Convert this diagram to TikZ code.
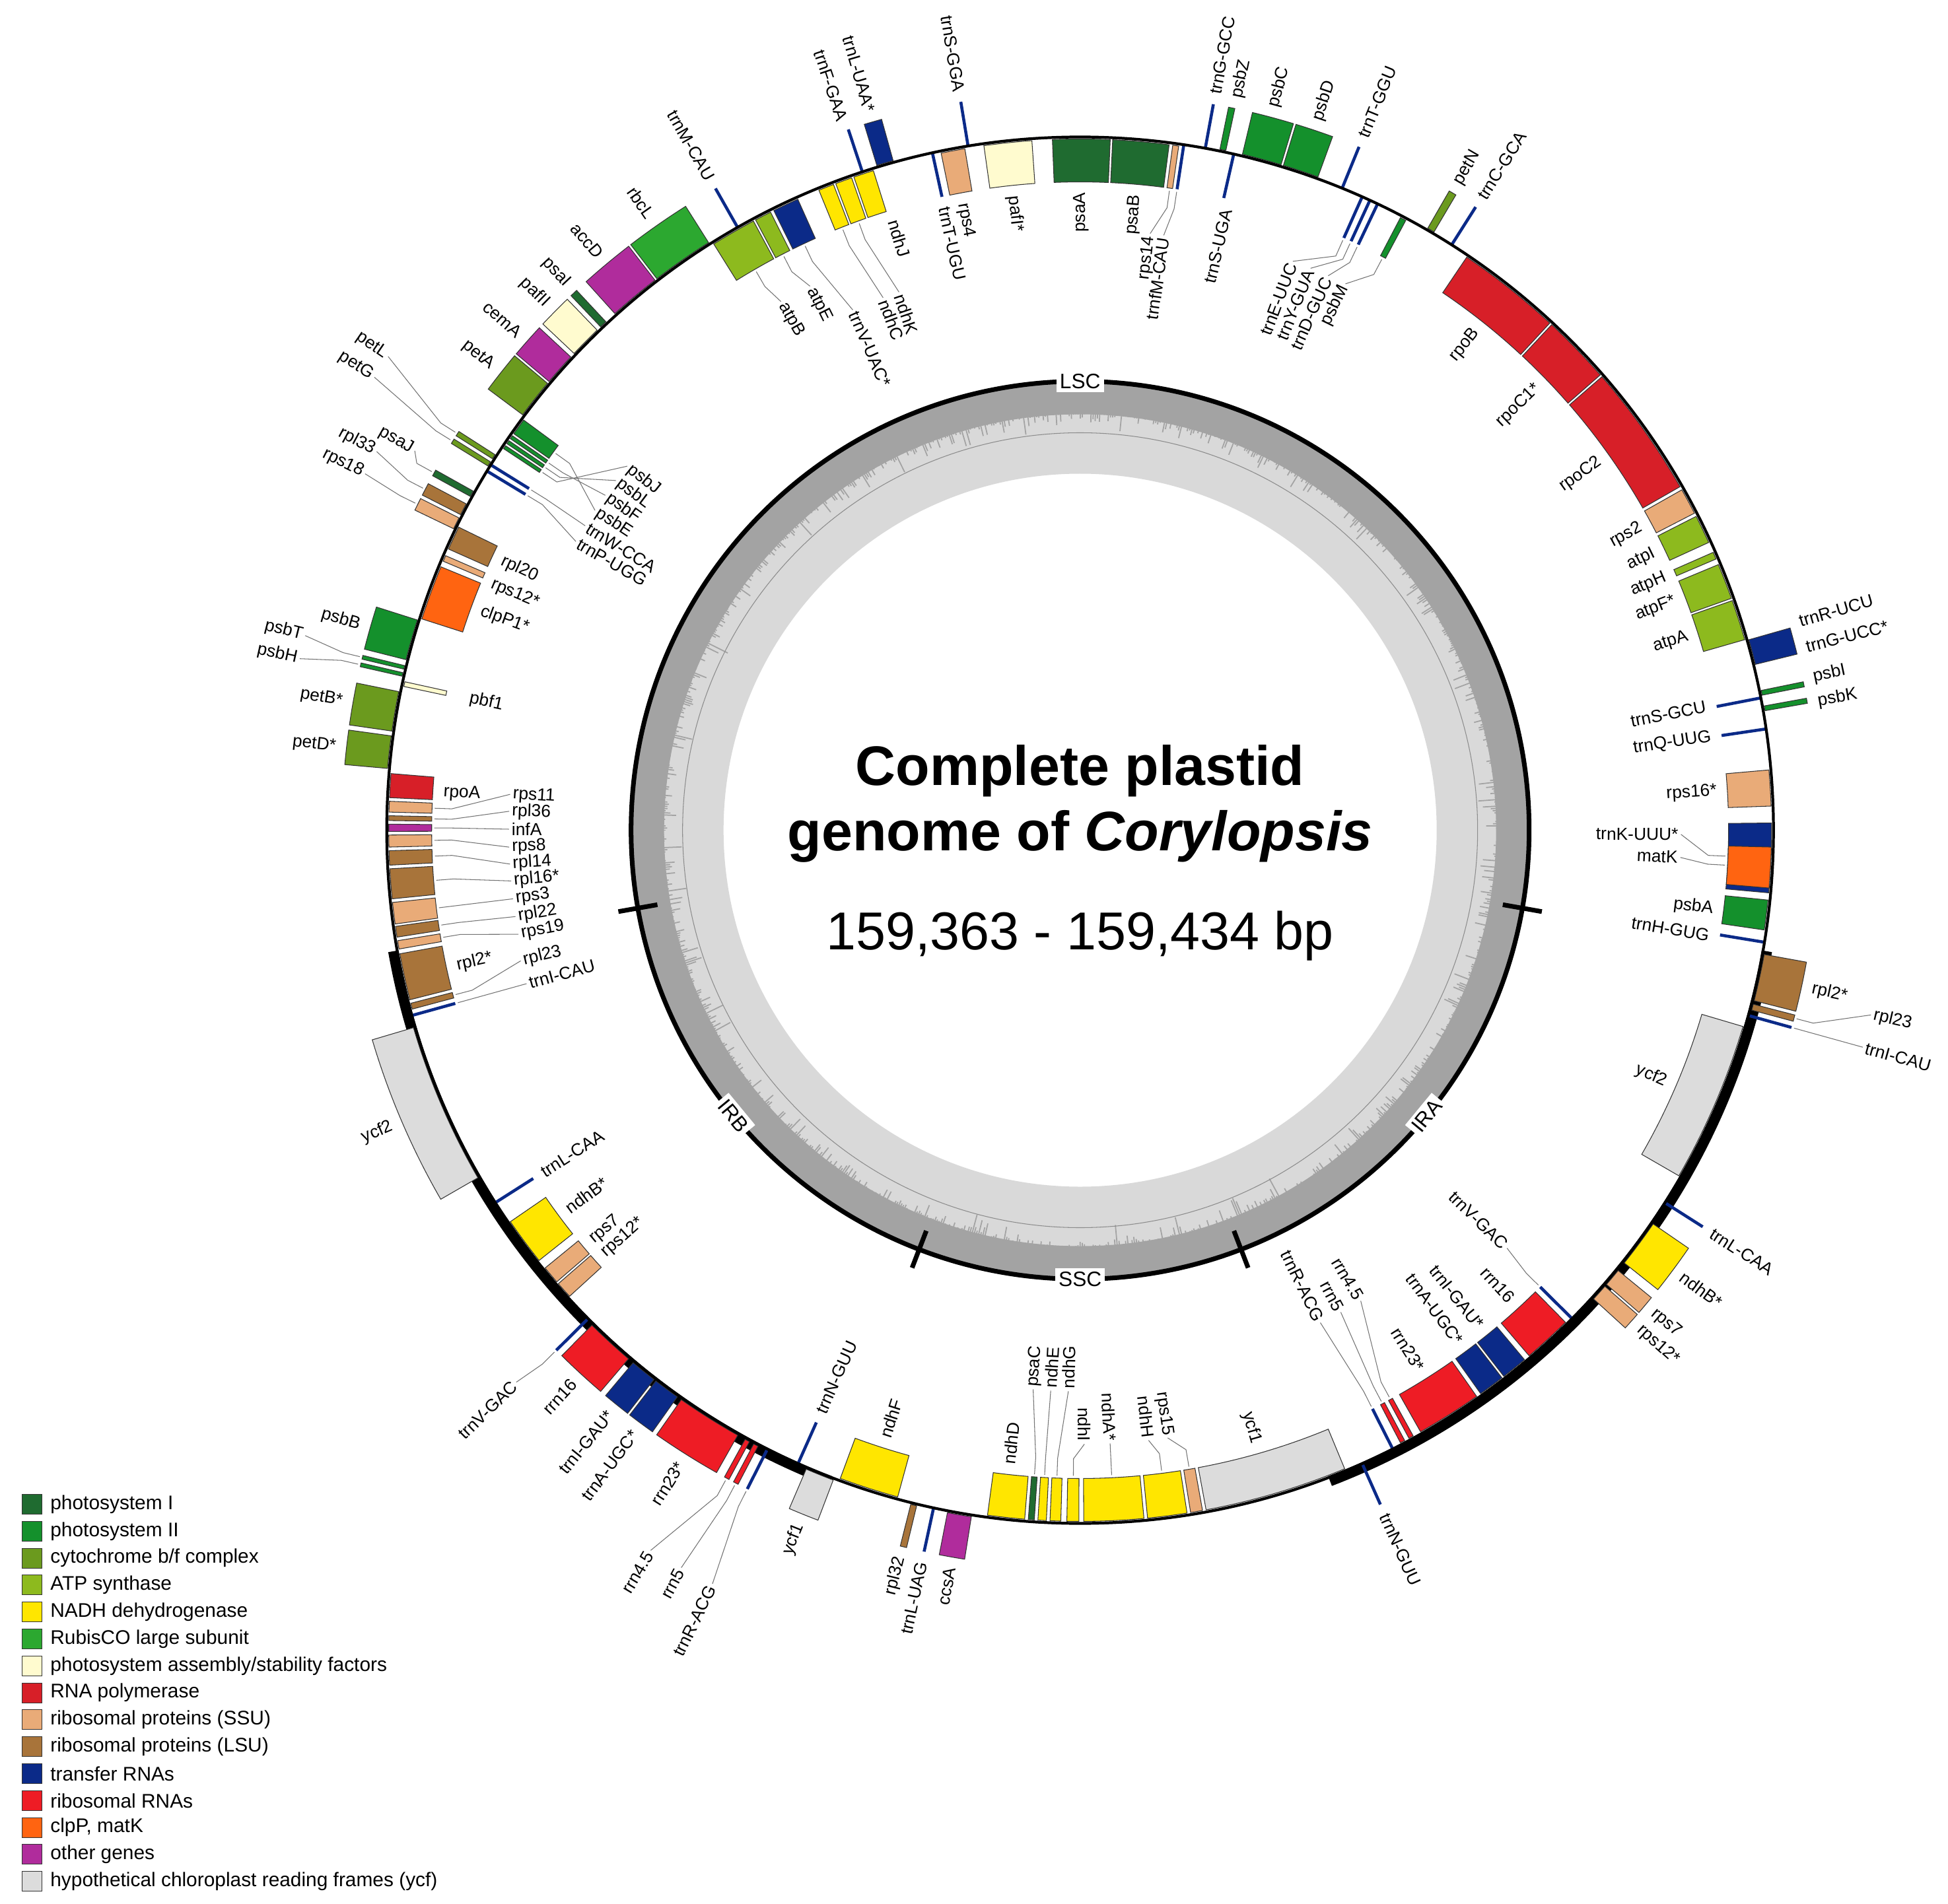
\documentclass[tikz,border=0pt]{standalone}
\usepackage{fontspec}
\setmainfont{Liberation Sans}
\definecolor{psI}{HTML}{1F6B30}
\definecolor{psII}{HTML}{14902C}
\definecolor{cytb}{HTML}{6B9A1E}
\definecolor{atp}{HTML}{8DBA1E}
\definecolor{nadh}{HTML}{FFE600}
\definecolor{rubisco}{HTML}{2CA830}
\definecolor{assem}{HTML}{FFFBCF}
\definecolor{rnap}{HTML}{D71F28}
\definecolor{ssu}{HTML}{E9AB78}
\definecolor{lsu}{HTML}{A8743A}
\definecolor{trna}{HTML}{0B2A88}
\definecolor{rrna}{HTML}{EE1C25}
\definecolor{clp}{HTML}{FF6411}
\definecolor{other}{HTML}{B02C9C}
\definecolor{ycf}{HTML}{DCDCDC}
\def\R{10.5}
\def\H{0.68}
\tikzset{
 gbox/.style={draw=black!80,line width=0.3pt},
 lab/.style={font=\fontsize{7.5}{8}\selectfont,inner sep=1pt},
 leader/.style={draw=black!55,line width=0.3pt},
 trnaline/.style={draw=trna,line width=1.3pt},
 leg/.style={font=\fontsize{8.5}{10}\selectfont,anchor=west,inner sep=0pt}
}
\newcommand\Lab[5]{%
 \pgfmathsetmacro\rl{\R+(#2)*(#5)}%
 \pgfmathsetmacro\cs{cos(#4)}%
 \pgfmathsetmacro\rot{\cs>=0 ? #4 : #4+180}%
 \pgfmathsetmacro\aw{\cs*(#2)>=0 ? 1 : 0}%
 \ifdim #5pt>1.01pt
   \pgfmathsetmacro\re{\R+(#2)*(\H+0.04)}%
   \pgfmathsetmacro\rk{\R+(#2)*(\H+0.3)}%
   \draw[leader] (#1:\re) -- (#1:\rk) -- (#4:\rl);
 \fi
 \ifdim\aw pt>0.5pt \node[lab,anchor=west,rotate=\rot] at (#4:\rl) {#3};%
 \else \node[lab,anchor=east,rotate=\rot] at (#4:\rl) {#3};\fi
}
\newcommand\G[7]{%
 \pgfmathsetmacro\ra{\R+(#4)*0.03}%
 \pgfmathsetmacro\rb{\R+(#4)*\H}%
 \filldraw[gbox,fill=#3] (#1:\ra) arc[start angle=#1,end angle=#2,radius=\ra] -- (#2:\rb) arc[start angle=#2,end angle=#1,radius=\rb] -- cycle;
 \pgfmathsetmacro\mm{(#1+#2)/2}%
 \ifx&#5&\else\Lab{\mm}{#4}{#5}{#6}{#7}\fi
}
\newcommand\T[5]{%
 \pgfmathsetmacro\rb{\R+(#2)*\H}%
 \draw[trnaline] (#1:\R) -- (#1:\rb);
 \Lab{#1}{#2}{#3}{#4}{#5}%
}
\newcommand\IRG[7]{%
 \pgfmathsetmacro\ma{(#1+#2)/2+#6}%
 \G{#1}{#2}{#3}{#4}{#5}{\ma}{#7}%
 \pgfmathsetmacro\ba{-180-(#1)}\pgfmathsetmacro\bb{-180-(#2)}%
 \pgfmathsetmacro\bl{-180-\ma}\pgfmathsetmacro\sideB{-1*(#4)}%
 \G{\ba}{\bb}{#3}{\sideB}{#5}{\bl}{#7}%
}
\newcommand\IRT[5]{%
 \pgfmathsetmacro\ma{#1+#4}%
 \T{#1}{#2}{#3}{\ma}{#5}%
 \pgfmathsetmacro\ba{-180-(#1)}\pgfmathsetmacro\bl{-180-\ma}\pgfmathsetmacro\sideB{-1*(#2)}%
 \T{\ba}{\sideB}{#3}{\bl}{#5}%
}
\begin{document}
\begin{tikzpicture}
\useasboundingbox (-16.357,-16.255) rectangle (13.143,12.575);
\fill[white] (-16.357,-16.255) rectangle (13.143,12.575);
% GC ring
\fill[black!15,even odd rule] (0,0) circle (6.78) (0,0) circle (5.4);
\fill[black!36,even odd rule] (0,0) circle (6.78) (0,0) circle (6.3);
\pgfmathsetseed{7}
\foreach \a in {0,0.3,...,359.8}{%
  \pgfmathsetmacro\rr{6.32-0.45*rnd*rnd*rnd}%
  \draw[black!36,line width=0.5pt] (\a:\rr) -- (\a:6.35);}
\draw[black!45,line width=0.3pt] (0,0) circle (6.02);
\draw[line width=2pt] (0,0) circle (6.8);
\foreach \t in {-10,-69,-111,-170}{\draw[line width=2pt] (\t:6.5) -- (\t:7.1);}
\node[fill=white,inner sep=1.5pt,font=\fontsize{9}{10}\selectfont] (lsc) at (90:6.8) {LSC};
\node[fill=white,inner sep=1.5pt,font=\fontsize{9}{10}\selectfont] (ssc) at (-90:6.8) {SSC};
\node[fill=white,inner sep=1.5pt,font=\fontsize{9}{10}\selectfont,rotate=50.5] (ira) at (-39.5:6.8) {IRA};
\node[fill=white,inner sep=1.5pt,font=\fontsize{9}{10}\selectfont,rotate=-50.5] (irb) at (-140.5:6.8) {IRB};
% title
\node[font=\fontsize{24}{28}\selectfont\bfseries,align=center] (title) at (0,0.4) {Complete plastid\\genome of \textit{Corylopsis}};
\node[font=\fontsize{23}{26}\selectfont] (bp) at (0,-1.6) {159,363 - 159,434 bp};
% IR thick arcs
\draw[line width=4.5pt] (-10:10.56) arc[start angle=-10,end angle=-69,radius=10.56];
\draw[line width=4.5pt] (-111:10.56) arc[start angle=-111,end angle=-170,radius=10.56];
% ---- LSC genes
\T{99.3}{1}{trnS-GGA}{99.3}{0.8}
\G{101.6}{99.6}{ssu}{-1}{rps4}{100.6}{0.8}
\T{102.3}{-1}{trnT-UGU}{102.3}{0.8}
\G{98}{94}{assem}{-1}{pafI*}{96}{0.8}
\G{92.3}{87.5}{psI}{-1}{psaA}{89.9}{0.8}
\G{87.3}{82.6}{psI}{-1}{psaB}{85}{0.8}
\G{82.3}{81.8}{ssu}{-1}{rps14}{83.3}{1.4}
\T{81.4}{-1}{trnfM-CAU}{82}{1.4}
\T{79.6}{1}{trnG-GCC}{79.6}{0.8}
\G{78.4}{77.9}{psII}{1}{psbZ}{77.9}{0.8}
\T{77.2}{-1}{trnS-UGA}{76.7}{0.8}
\G{76.5}{73.2}{psII}{1}{psbC}{75}{0.8}
\G{73}{70}{psII}{1}{psbD}{71.5}{0.8}
\T{67.8}{1}{trnT-GGU}{67.8}{0.8}
\T{66}{-1}{trnE-UUC}{69.5}{1.3}
\T{65.3}{-1}{trnY-GUA}{67.7}{1.3}
\T{64.6}{-1}{trnD-GUC}{65.9}{1.3}
\G{62.4}{61.9}{psII}{-1}{psbM}{64.1}{1.3}
\G{60}{59.4}{cytb}{1}{petN}{59.7}{0.8}
\T{57.6}{1}{trnC-GCA}{57.6}{0.8}
\G{56}{47.2}{rnap}{-1}{rpoB}{51.6}{0.8}
\G{47}{41.2}{rnap}{-1}{rpoC1*}{44.1}{0.8}
\G{41}{29.8}{rnap}{-1}{rpoC2}{35.4}{0.8}
\G{29.5}{27.3}{ssu}{-1}{rps2}{28.4}{0.8}
\G{27}{24.6}{atp}{-1}{atpI}{25.8}{0.8}
\G{23.7}{23.1}{atp}{-1}{atpH}{23.4}{0.8}
\G{22.6}{19.6}{atp}{-1}{atpF*}{21.1}{0.8}
\G{19.4}{16}{atp}{-1}{atpA}{17.7}{0.8}
\G{15.9}{13.8}{trna}{1}{trnR-UCU}{16.2}{0.8}
\Lab{14.8}{1}{trnG-UCC*}{14.2}{0.8}
\T{11}{-1}{trnS-GCU}{11.2}{0.8}
\G{11.6}{11.2}{psII}{1}{psbI}{11.8}{0.8}
\G{10.3}{9.9}{psII}{1}{psbK}{9.9}{0.8}
\T{8.4}{-1}{trnQ-UUG}{8.4}{0.8}
\G{5}{2}{ssu}{-1}{rps16*}{3.5}{0.8}
\G{0.6}{-5.2}{trna}{-1}{trnK-UUU*}{-0.4}{1.4}
\G{-1.4}{-4.8}{clp}{-1}{matK}{-2.6}{1.4}
\G{-5.8}{-8.3}{psII}{-1}{psbA}{-7.1}{0.8}
\T{-9.3}{-1}{trnH-GUG}{-9.5}{0.8}
% left/top LSC
\G{107}{105.6}{trna}{1}{trnL-UAA*}{106.3}{0.8}
\T{108.3}{1}{trnF-GAA}{108.5}{0.8}
\G{107.4}{109.1}{nadh}{-1}{ndhJ}{107}{0.8}
\G{109.3}{110.7}{nadh}{-1}{ndhK}{108.6}{1.9}
\G{110.9}{112.2}{nadh}{-1}{ndhC}{110.3}{1.9}
\G{114.1}{116.3}{trna}{-1}{trnV-UAC*}{113.6}{1.9}
\G{116.6}{118}{atp}{-1}{atpE}{116.4}{1.3}
\G{118.2}{122}{atp}{-1}{atpB}{119.5}{1.3}
\T{119.6}{1}{trnM-CAU}{119.6}{0.8}
\G{127.5}{122.3}{rubisco}{1}{rbcL}{125}{0.8}
\G{132}{127.7}{other}{1}{accD}{129.9}{0.8}
\G{133.6}{133}{psI}{1}{psaI}{133.2}{0.8}
\G{136.7}{134}{assem}{1}{pafII}{135.4}{0.8}
\G{139.8}{137.1}{other}{1}{cemA}{138.5}{0.8}
\G{143.3}{140}{cytb}{1}{petA}{141.7}{0.8}
\G{143.6}{145}{psII}{-1}{psbE}{146.6}{1.7}
\G{145.2}{145.5}{psII}{-1}{psbF}{144.8}{1.7}
\G{145.7}{146}{psII}{-1}{psbL}{143}{1.7}
\G{146.2}{146.5}{psII}{-1}{psbJ}{141.2}{1.7}
\T{148.2}{-1}{trnW-CCA}{148.4}{1.7}
\T{148.8}{-1}{trnP-UGG}{150.2}{1.7}
\G{147.3}{147.7}{cytb}{1}{petL}{145.6}{2.2}
\G{148}{148.4}{cytb}{1}{petG}{147.3}{2.2}
\G{150.8}{151.3}{psI}{1}{psaJ}{150.3}{1.1}
\G{152}{153}{lsu}{1}{rpl33}{151.7}{1.6}
\G{153.3}{154.3}{ssu}{1}{rps18}{153.5}{1.6}
\G{154}{156}{lsu}{-1}{rpl20}{155}{0.8}
\G{156.6}{157.1}{ssu}{-1}{rps12*}{157.3}{0.8}
\G{157.6}{162.2}{clp}{-1}{clpP1*}{159.9}{0.8}
\G{162.4}{165.8}{psII}{1}{psbB}{164.1}{0.8}
\G{166.3}{166.6}{psII}{1}{psbT}{165.9}{1.6}
\G{166.9}{167.2}{psII}{1}{psbH}{167.6}{1.6}
\G{167.6}{168}{assem}{-1}{pbf1}{167.8}{1.0}
\G{168.5}{171.8}{cytb}{1}{petB*}{170.1}{0.8}
\G{172.2}{174.9}{cytb}{1}{petD*}{173.6}{0.8}
\G{175.3}{177.3}{rnap}{-1}{rpoA}{176.6}{0.8}
\G{177.6}{178.5}{ssu}{-1}{rps11}{176.4}{1.85}
\G{178.8}{179.2}{lsu}{-1}{rpl36}{178.1}{1.85}
\G{179.5}{180.1}{other}{-1}{infA}{179.9}{1.85}
\G{180.4}{181.4}{ssu}{-1}{rps8}{181.7}{1.85}
\G{181.7}{182.9}{lsu}{-1}{rpl14}{183.4}{1.85}
\G{183.2}{185.7}{lsu}{-1}{rpl16*}{185.1}{1.85}
\G{186}{187.8}{ssu}{-1}{rps3}{186.9}{1.85}
\G{188}{188.9}{lsu}{-1}{rpl22}{188.7}{1.85}
\G{189.2}{189.9}{ssu}{-1}{rps19}{190.5}{1.85}
% ---- inverted repeats (IRA drawn, IRB mirrored)
\IRG{-10.3}{-14.2}{lsu}{1}{rpl2*}{0}{0.8}
\IRG{-14.5}{-15}{lsu}{1}{rpl23}{1.6}{1.8}
\IRT{-15.5}{1}{trnI-CAU}{0}{1.8}
\IRG{-16.5}{-30}{ycf}{-1}{ycf2}{0}{0.8}
\IRT{-32.5}{1}{trnL-CAA}{0}{0.8}
\IRG{-34.5}{-38.5}{nadh}{1}{ndhB*}{0}{0.8}
\IRG{-39.3}{-40.8}{ssu}{1}{rps7}{0}{0.8}
\IRG{-41}{-42.4}{ssu}{1}{rps12*}{0}{0.8}
\IRT{-44.8}{-1}{trnV-GAC}{0.4}{1.45}
\IRG{-45.4}{-49.5}{rrna}{-1}{rrn16}{0}{0.8}
\IRG{-50}{-52.2}{trna}{-1}{trnI-GAU*}{0}{0.8}
\IRG{-52.4}{-54.6}{trna}{-1}{trnA-UGC*}{0}{0.8}
\IRG{-55}{-60.5}{rrna}{-1}{rrn23*}{0}{0.8}
\IRG{-61.2}{-61.6}{rrna}{-1}{rrn4.5}{2.2}{2.2}
\IRG{-62}{-62.4}{rrna}{-1}{rrn5}{0.6}{2.2}
\IRT{-63.2}{-1}{trnR-ACG}{-0.8}{2.2}
\IRT{-66}{1}{trnN-GUU}{0}{0.8}
% ---- SSC
\G{-67.5}{-79.5}{ycf}{-1}{ycf1}{-74}{0.8}
\G{-79.8}{-80.8}{ssu}{-1}{rps15}{-81.8}{1.2}
\G{-81.1}{-84.4}{nadh}{-1}{ndhH}{-83.6}{1.2}
\G{-84.7}{-89.7}{nadh}{-1}{ndhA*}{-87.2}{1.2}
\G{-90.1}{-91.1}{nadh}{-1}{ndhI}{-89.6}{1.2}
\G{-91.6}{-92.5}{nadh}{-1}{ndhG}{-91.2}{2.0}
\G{-92.8}{-93.5}{nadh}{-1}{ndhE}{-93}{2.0}
\G{-93.8}{-94.3}{psI}{-1}{psaC}{-94.8}{2.0}
\G{-94.6}{-97.7}{nadh}{-1}{ndhD}{-96.4}{0.8}
\G{-99}{-101}{other}{1}{ccsA}{-100}{0.8}
\T{-102.2}{1}{trnL-UAG}{-102.2}{0.8}
\G{-103.6}{-104.1}{lsu}{1}{rpl32}{-103.9}{0.8}
\G{-105.3}{-110.3}{nadh}{-1}{ndhF}{-107.8}{0.8}
\G{-110.8}{-113.2}{ycf}{1}{ycf1}{-112}{0.8}
% main circle
\draw[line width=1.2pt] (0,0) circle (\R);
% legend
\foreach \c/\t [count=\i from 0] in {psI/{photosystem I},psII/{photosystem II},cytb/{cytochrome b\slash f complex},atp/{ATP synthase},nadh/{NADH dehydrogenase},rubisco/{RubisCO large subunit},assem/{photosystem assembly\slash stability factors},rnap/{RNA polymerase},ssu/{ribosomal proteins (SSU)},lsu/{ribosomal proteins (LSU)},trna/{transfer RNAs},rrna/{ribosomal RNAs},clp/{clpP, matK},other/{other genes},ycf/{hypothetical chloroplast reading frames (ycf)}}{
  \pgfmathsetmacro\yy{-10.21-0.408*\i}
  \filldraw[draw=black!80,line width=0.3pt,fill=\c] (-16.02,\yy-0.15) rectangle (-15.72,\yy+0.15);
  \node[leg] at (-15.6,\yy) {\t};
}
\end{tikzpicture}
\end{document}
